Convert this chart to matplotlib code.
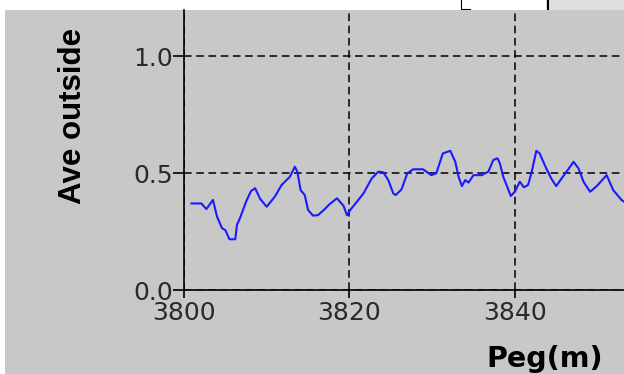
import matplotlib
matplotlib.use("Agg")
import matplotlib.pyplot as plt
from matplotlib.patches import Rectangle
from matplotlib.lines import Line2D

# peg position (m) and average outside value
peg = [3800.9, 3802.1, 3802.7, 3803.5, 3804.0, 3804.6, 3805.0, 3805.5, 3806.2, 3806.4,
       3806.8, 3807.5, 3808.1, 3808.6, 3809.2, 3810.0, 3811.0, 3811.8, 3812.8, 3813.4,
       3813.7, 3814.1, 3814.6, 3815.0, 3815.6, 3816.2, 3817.0, 3817.6, 3818.5, 3819.3,
       3819.7, 3820.1, 3820.9, 3821.7, 3822.7, 3823.5, 3824.1, 3824.7, 3825.3, 3825.6,
       3826.3, 3827.0, 3827.7, 3828.9, 3829.9, 3830.5, 3831.3, 3832.2, 3832.8, 3833.2,
       3833.6, 3834.0, 3834.4, 3835.0, 3836.0, 3836.8, 3837.4, 3837.9, 3838.2, 3838.6,
       3839.0, 3839.5, 3840.0, 3840.6, 3841.1, 3841.6, 3842.0, 3842.6, 3843.0, 3843.8,
       3844.4, 3845.0, 3845.8, 3846.4, 3847.1, 3847.7, 3848.3, 3849.1, 3849.9, 3851.1,
       3851.9, 3852.9, 3853.5]
ave_outside = [0.370, 0.370, 0.346, 0.385, 0.313, 0.264, 0.256, 0.217, 0.217, 0.278,
               0.310, 0.377, 0.423, 0.435, 0.390, 0.356, 0.400, 0.449, 0.484, 0.527,
               0.506, 0.427, 0.406, 0.342, 0.318, 0.320, 0.345, 0.367, 0.392, 0.359,
               0.320, 0.342, 0.377, 0.413, 0.477, 0.506, 0.503, 0.470, 0.413, 0.406,
               0.430, 0.499, 0.516, 0.516, 0.491, 0.499, 0.584, 0.595, 0.548, 0.484,
               0.444, 0.470, 0.459, 0.491, 0.491, 0.506, 0.556, 0.563, 0.541, 0.484,
               0.449, 0.402, 0.420, 0.463, 0.439, 0.449, 0.499, 0.595, 0.584, 0.520,
               0.477, 0.444, 0.484, 0.513, 0.548, 0.520, 0.463, 0.420, 0.444, 0.491,
               0.427, 0.385, 0.370]
x_ticks = [3800, 3820, 3840]
y_ticks = [0.0, 0.5, 1.0]

BG = "#c8c8c8"
W, H = 624, 374

fig = plt.figure(figsize=(6.24, 3.74), dpi=100, facecolor="white")
# gray panel (white strip at top and left like the screenshot)
fig.patches.append(Rectangle((5 / W, 0), 1, (H - 10) / H, transform=fig.transFigure,
                             facecolor=BG, edgecolor="none", zorder=-10))
# bits of window chrome along the top edge
fig.patches.append(Rectangle((546 / W, (H - 10) / H), 1, 10 / H, transform=fig.transFigure,
                             facecolor="#dedede", edgecolor="none", zorder=-10))
fig.lines.append(Line2D([548 / W, 548 / W], [(H - 10) / H, 1], transform=fig.transFigure,
                        color="black", lw=1.5, zorder=-5))
fig.lines.append(Line2D([461 / W, 461 / W, 470 / W], [1, (H - 9) / H, (H - 9) / H],
                        transform=fig.transFigure, color="black", lw=0.8, zorder=-5))

ax = fig.add_axes([184 / W, 84 / H, 440 / W, 280 / H])
ax.set_facecolor(BG)
ax.plot(peg, ave_outside, color="#1a1aff", lw=1.5, zorder=3)

ax.set_xlim(3800, 3853.2)
ax.set_ylim(0, 1.197)
ax.set_xticks(x_ticks)
ax.set_yticks(y_ticks)
ax.set_yticklabels([f"{v:.1f}" for v in y_ticks])

ax.grid(True, color="black", lw=1.1, linestyle=(0, (5, 3)))
for s in ["top", "right"]:
    ax.spines[s].set_visible(False)
for s in ["left", "bottom"]:
    ax.spines[s].set_linewidth(1.2)

ax.tick_params(axis="both", labelsize=18, labelcolor="#2a2a2a", direction="out", width=1.2)
ax.tick_params(axis="y", length=8, pad=0)
ax.tick_params(axis="x", length=6, pad=2)
for lab in ax.get_xticklabels() + ax.get_yticklabels():
    lab.set_fontfamily("DejaVu Sans")

ax.set_ylabel("Ave outside", fontsize=22.5, fontweight="bold", family="Liberation Sans",
              ha="center", va="center")
ax.yaxis.set_label_coords(-0.253, 0.621)
ax.set_xlabel("Peg(m)", fontsize=20.5, fontweight="bold", family="DejaVu Sans",
              ha="center", va="baseline")
ax.xaxis.set_label_coords(0.82, -0.275)

plt.savefig("out.png", dpi=100, facecolor=fig.get_facecolor())
plt.close()
